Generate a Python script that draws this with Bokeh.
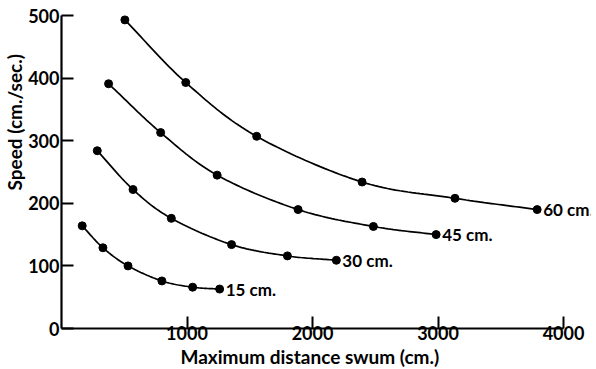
import numpy as np
from bokeh.plotting import figure
from bokeh.models import Range1d, FixedTicker, Label, Title
from bokeh.embed import file_html
from bokeh.resources import INLINE

# Swimming speed against the maximum distance swum, one curve per body length
series_names = ["15 cm.", "30 cm.", "45 cm.", "60 cm."]

dist_15 = [165, 330, 530, 800, 1045, 1260]
speed_15 = [164, 129, 100, 76, 66, 63]

dist_30 = [285, 570, 875, 1355, 1800, 2190]
speed_30 = [284, 222, 176, 134, 116, 109]

dist_45 = [375, 790, 1240, 1885, 2485, 2985]
speed_45 = [391, 313, 245, 190, 163, 150]

dist_60 = [505, 990, 1555, 2395, 3135, 3790]
speed_60 = [493, 393, 307, 234, 208, 190]

x_ticks = [1000, 2000, 3000, 4000]
y_ticks = [0, 100, 200, 300, 400, 500]

x_title = "Maximum distance swum (cm.)"
y_title = "Speed (cm./sec.)"

FONT = "Lato"

W, H = 596, 369
LEFT, RIGHT, TOP, BOTTOM = 61, 6, 5, 41
X_END = 4215
Y_END = 516
# pixels per data unit (used to smooth curves evenly on screen)
SX = (W - LEFT - RIGHT) / X_END
SY = (H - TOP - BOTTOM) / Y_END


def smooth_curve(xs, ys, steps=24):
    """Catmull-Rom curve through the points, computed in screen-proportional space."""
    px = np.asarray(xs, float) * SX
    py = np.asarray(ys, float) * SY
    px = np.concatenate([[2 * px[0] - px[1]], px, [2 * px[-1] - px[-2]]])
    py = np.concatenate([[2 * py[0] - py[1]], py, [2 * py[-1] - py[-2]]])
    out_x, out_y = [], []
    t = np.linspace(0, 1, steps)
    for i in range(1, len(px) - 2):
        for arr, out in ((px, out_x), (py, out_y)):
            p0, p1, p2, p3 = arr[i - 1], arr[i], arr[i + 1], arr[i + 2]
            seg = 0.5 * ((2 * p1) + (-p0 + p2) * t
                         + (2 * p0 - 5 * p1 + 4 * p2 - p3) * t ** 2
                         + (-p0 + 3 * p1 - 3 * p2 + p3) * t ** 3)
            out.extend(seg.tolist())
    return np.array(out_x) / SX, np.array(out_y) / SY


p = figure(width=W, height=H, output_backend="svg", toolbar_location=None,
           x_range=Range1d(0, X_END), y_range=Range1d(0, Y_END),
           min_border_left=LEFT, min_border_right=RIGHT,
           min_border_top=TOP, min_border_bottom=BOTTOM)
p.outline_line_color = None
p.grid.visible = False
p.background_fill_color = "white"
p.border_fill_color = "white"

for ax, ticks, bounds in ((p.xaxis, x_ticks, (0, 4000)), (p.yaxis, y_ticks, (0, 500))):
    ax.ticker = FixedTicker(ticks=ticks)
    ax.bounds = bounds
    ax.axis_line_width = 2.2
    ax.axis_line_color = "black"
    ax.major_tick_in = 12
    ax.major_tick_out = 0
    ax.major_tick_line_width = 2
    ax.major_tick_line_color = "black"
    ax.minor_tick_line_color = None
    ax.major_label_text_font = FONT
    ax.major_label_text_font_style = "bold"
    ax.major_label_text_font_size = "18px"
    ax.major_label_text_color = "black"
p.xaxis.major_label_standoff = -3
p.yaxis.major_label_standoff = 2

all_series = [(dist_15, speed_15), (dist_30, speed_30), (dist_45, speed_45), (dist_60, speed_60)]
for name, (xs, ys) in zip(series_names, all_series):
    cx, cy = smooth_curve(xs, ys)
    p.line(cx, cy, line_color="black", line_width=1.7)
    p.scatter(xs, ys, size=8, fill_color="black", line_color="black")
    p.add_layout(Label(x=xs[-1], y=ys[-1], text=name, x_offset=6,
                       text_align="left", text_baseline="middle",
                       text_font=FONT, text_font_style="bold",
                       text_font_size="17px", text_color="black"))

# axis titles, placed in the side panels
p.add_layout(Title(text=x_title, align="left", offset=119, standoff=0,
                   text_font=FONT, text_font_style="bold", text_font_size="19px",
                   text_color="black", text_line_height=1.0), "below")
p.add_layout(Title(text=y_title, align="left", offset=138, standoff=0,
                   text_font=FONT, text_font_style="bold", text_font_size="19px",
                   text_color="black", text_line_height=1.0), "left")

open("out.html", "w").write(file_html(p, INLINE))
